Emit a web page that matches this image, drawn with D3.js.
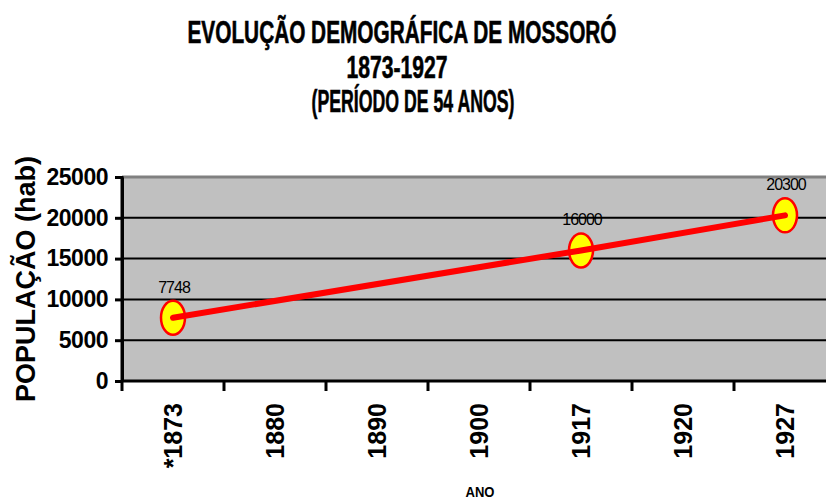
<!DOCTYPE html>
<meta charset="utf-8">
<style>
body {
  margin: 0;
  background: #fff;
}
svg text {
  font-family: "Liberation Sans", Arial, sans-serif;
  fill: #000;
}
.title {
  font-weight: bold;
  font-size: 31px;
  stroke: #000;
  stroke-width: 0.6px;
}
.grid line {
  stroke: #000;
  stroke-width: 2px;
}
.axis path, .axis line {
  stroke: #000;
  stroke-width: 3px;
}
.y.axis text {
  font-size: 23px;
  font-weight: bold;
  letter-spacing: -0.5px;
}
.x.axis text {
  font-size: 25px;
  font-weight: bold;
}
.label {
  font-size: 16px;
  letter-spacing: -1px;
}
</style>
<body>
<script src="https://d3js.org/d3.v7.min.js"></script>
<script>

// data
var years = ["*1873", "1880", "1890", "1900", "1917", "1920", "1927"];
var population = [7748, null, null, null, 16000, null, 20300];
var yTicks = [0, 5000, 10000, 15000, 20000, 25000];
var titleLines = ["EVOLUÇÃO DEMOGRÁFICA DE MOSSORÓ", "1873-1927", "(PERÍODO DE 54 ANOS)"];

var width = 826,
    height = 503;

var plot = {left: 122, right: 836, top: 177, bottom: 381};

var x = d3.scaleBand()
    .domain(years)
    .range([plot.left, plot.right]);

var y = d3.scaleLinear()
    .domain([0, 25000])
    .range([plot.bottom, plot.top]);

var svg = d3.select("body").append("svg")
    .attr("width", width)
    .attr("height", height);

// title, squeezed like the original
var titleX = [402, 397, 413],
    titleY = [43, 78, 112],
    titleW = [429, 101, 203];

svg.selectAll(".title")
    .data(titleLines)
  .enter().append("text")
    .attr("class", "title")
    .attr("x", function(d, i) { return titleX[i]; })
    .attr("y", function(d, i) { return titleY[i]; })
    .attr("text-anchor", "middle")
    .attr("textLength", function(d, i) { return titleW[i]; })
    .attr("lengthAdjust", "spacingAndGlyphs")
    .text(function(d) { return d; });

// plot area
svg.append("rect")
    .attr("x", plot.left)
    .attr("y", plot.top)
    .attr("width", plot.right - plot.left)
    .attr("height", plot.bottom - plot.top)
    .style("fill", "#c0c0c0");

svg.append("line")
    .attr("x1", plot.left).attr("x2", plot.right)
    .attr("y1", plot.top).attr("y2", plot.top)
    .style("stroke", "#808080")
    .style("stroke-width", "3px");

svg.append("g")
    .attr("class", "grid")
  .selectAll("line")
    .data(yTicks.slice(1, -1))
  .enter().append("line")
    .attr("x1", plot.left).attr("x2", plot.right)
    .attr("y1", function(d) { return y(d); })
    .attr("y2", function(d) { return y(d); });

// y axis
svg.append("g")
    .attr("class", "y axis")
    .attr("transform", "translate(" + plot.left + ",0)")
    .call(d3.axisLeft(y).tickValues(yTicks).tickFormat(d3.format("d"))
      .tickSize(7).tickSizeOuter(0).tickPadding(7));

// x axis: labels at band centres, ticks on band edges
var xAxis = svg.append("g")
    .attr("class", "x axis")
    .attr("transform", "translate(0," + plot.bottom + ")")
    .call(d3.axisBottom(x).tickSize(0).tickSizeOuter(0));

xAxis.select(".domain").remove();
xAxis.selectAll("text")
    .attr("transform", "rotate(-90)")
    .attr("x", -22)
    .attr("y", 0)
    .attr("dy", "0.36em")
    .style("text-anchor", "end");

xAxis.selectAll(".edge")
    .data(years.concat([null]))
  .enter().append("line")
    .attr("class", "edge")
    .attr("x1", function(d, i) { return plot.left + i * x.bandwidth(); })
    .attr("x2", function(d, i) { return plot.left + i * x.bandwidth(); })
    .attr("y1", 0)
    .attr("y2", 10);

svg.append("line")
    .attr("x1", plot.left).attr("x2", plot.right)
    .attr("y1", plot.bottom).attr("y2", plot.bottom)
    .style("stroke", "#000")
    .style("stroke-width", "3px");

svg.append("line")
    .attr("x1", plot.left).attr("x2", plot.left)
    .attr("y1", plot.top - 1).attr("y2", plot.bottom + 1)
    .style("stroke", "#000")
    .style("stroke-width", "3px");

// axis titles
svg.append("text")
    .attr("transform", "translate(35,279) rotate(-90)")
    .attr("text-anchor", "middle")
    .style("font-size", "27px")
    .style("font-weight", "bold")
    .text("POPULAÇÃO (hab)");

svg.append("text")
    .attr("x", 480)
    .attr("y", 497)
    .attr("text-anchor", "middle")
    .attr("textLength", 29)
    .attr("lengthAdjust", "spacingAndGlyphs")
    .style("font-size", "15px")
    .style("font-weight", "bold")
    .text("ANO");

// series
var points = years.map(function(d, i) { return {year: d, value: population[i]}; })
    .filter(function(d) { return d.value != null; });

var cx = function(d) { return x(d.year) + x.bandwidth() / 2; };

svg.selectAll(".dot")
    .data(points)
  .enter().append("ellipse")
    .attr("class", "dot")
    .attr("cx", cx)
    .attr("cy", function(d) { return y(d.value); })
    .attr("rx", 12)
    .attr("ry", 17)
    .style("fill", "#ffff00")
    .style("stroke", "#ff0000")
    .style("stroke-width", "2.5px");

svg.append("path")
    .datum(points)
    .attr("d", d3.line().x(cx).y(function(d) { return y(d.value); }))
    .style("fill", "none")
    .style("stroke", "#ff0000")
    .style("stroke-width", "6px")
    .style("stroke-linecap", "round");

svg.selectAll(".label")
    .data(points)
  .enter().append("text")
    .attr("class", "label")
    .attr("x", function(d) { return cx(d) + 1; })
    .attr("y", function(d) { return y(d.value) - 25; })
    .attr("text-anchor", "middle")
    .text(function(d) { return d.value; });

</script>
